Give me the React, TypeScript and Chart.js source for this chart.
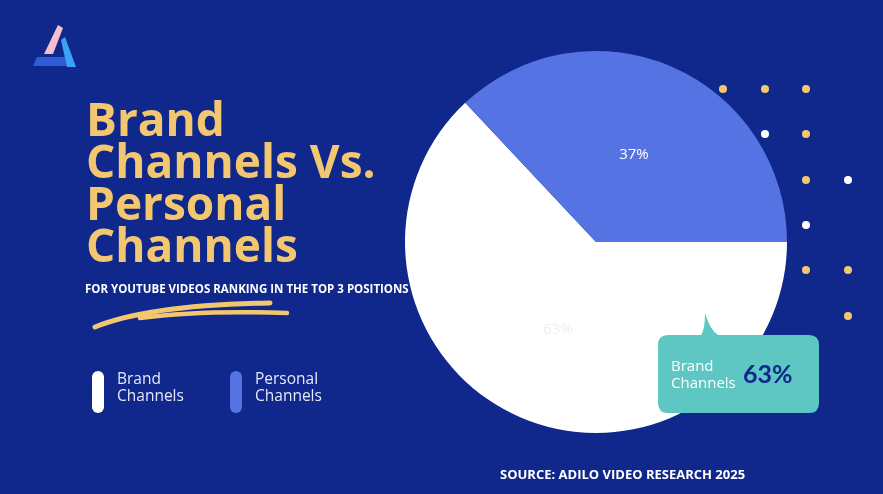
import React, { useEffect, useRef } from "react";
import { Chart, registerables } from "chart.js";

Chart.register(...registerables);

const categories = ["Brand Channels", "Personal Channels"];
const shares = [63, 37];
const sliceColors = ["#ffffff", "#5573e2"];
const labelColors = ["#eeeef6", "#ffffff"];

const BG = "#10288b";
const YELLOW = "#f3c76f";

const sliceLabels = {
  id: "sliceLabels",
  afterDatasetsDraw(chart: any) {
    const ctx = chart.ctx;
    const meta = chart.getDatasetMeta(0);
    ctx.save();
    ctx.font = "15px 'Open Sans'";
    ctx.textAlign = "center";
    ctx.textBaseline = "middle";
    meta.data.forEach((arc: any, i: number) => {
      const p = arc.getCenterPoint();
      ctx.fillStyle = labelColors[i];
      ctx.fillText(shares[i] + "%", p.x, p.y);
    });
    ctx.restore();
  },
};

const dots: [number, number, string][] = [
  [723, 89, YELLOW], [765, 89, YELLOW], [806, 89, YELLOW],
  [765, 134, "#ffffff"], [806, 134, YELLOW],
  [806, 180, YELLOW], [848, 180, "#ffffff"],
  [806, 225, "#ffffff"],
  [806, 270, YELLOW], [848, 270, YELLOW],
  [848, 316, YELLOW],
];

export default function App() {
  const ref = useRef<HTMLCanvasElement>(null);
  useEffect(() => {
    if (!ref.current) return;
    const chart = new Chart(ref.current, {
      type: "pie",
      data: {
        labels: categories,
        datasets: [
          {
            data: shares,
            backgroundColor: sliceColors,
            borderWidth: 0,
          },
        ],
      },
      options: {
        animation: false,
        responsive: false,
        rotation: 90,
        layout: { padding: { left: 405, right: 96, top: 51, bottom: 61 } },
        plugins: { legend: { display: false }, tooltip: { enabled: false } },
      },
      plugins: [sliceLabels],
    });
    return () => chart.destroy();
  }, []);

  const abs = (s: React.CSSProperties): React.CSSProperties => ({ position: "absolute", ...s });

  return (
    <div style={{ position: "fixed", left: 0, top: 0, width: 883, height: 494, background: BG, overflow: "hidden", fontFamily: "'Open Sans', sans-serif" }}>
      <svg width={883} height={494} style={abs({ left: 0, top: 0 })}>
        <polygon points="37,57 66,57 68,66 33,66" fill="#2f5bd6" />
        <polygon points="61,40 65,37 76,67 67,67" fill="#3ba3f7" />
        <polygon points="58,25 63,28 53,54 44,54" fill="#f5c0cc" />
        {dots.map(([x, y, c], i) => (
          <circle key={i} cx={x} cy={y} r={4} fill={c} />
        ))}
        <path d="M95,327 Q150,305 270,303" stroke={YELLOW} strokeWidth={5} fill="none" strokeLinecap="round" />
        <path d="M140,318 Q200,310 287,313" stroke={YELLOW} strokeWidth={4.5} fill="none" strokeLinecap="round" />
      </svg>
      <canvas ref={ref} width={883} height={494} style={abs({ left: 0, top: 0 })} />
      <div style={abs({ left: 86, top: 97, color: YELLOW, fontWeight: 700, fontSize: 46, lineHeight: "42px", letterSpacing: 0 })}>
        Brand<br />Channels Vs.<br />Personal<br />Channels
      </div>
      <div style={abs({ left: 85, top: 281, color: "#ffffff", fontWeight: 700, fontSize: 11.5, whiteSpace: "nowrap" })}>
        FOR YOUTUBE VIDEOS RANKING IN THE TOP 3 POSITIONS
      </div>
      <div style={abs({ left: 92, top: 371, width: 12, height: 42, borderRadius: 6, background: "#ffffff" })} />
      <div style={abs({ left: 117, top: 370, color: "#e6e9f7", fontSize: 15.5, lineHeight: "17px" })}>
        Brand<br />Channels
      </div>
      <div style={abs({ left: 230, top: 371, width: 12, height: 42, borderRadius: 6, background: "#5573e2" })} />
      <div style={abs({ left: 255, top: 370, color: "#e6e9f7", fontSize: 15.5, lineHeight: "17px" })}>
        Personal<br />Channels
      </div>
      <svg width={883} height={494} style={abs({ left: 0, top: 0 })}>
        <path d="M668,335 L701,335 Q705,330 705,313 Q710,330 718,335 L809,335 Q819,335 819,345 L819,403 Q819,413 809,413 L668,413 Q658,413 658,403 L658,345 Q658,335 668,335 Z" fill="#5ec6c3" />
      </svg>
      <div style={abs({ left: 671, top: 357, color: "#ffffff", fontSize: 15, lineHeight: "17px" })}>
        Brand<br />Channels
      </div>
      <div style={abs({ left: 743, top: 358, color: "#10288b", fontSize: 25, fontWeight: 700, fontFamily: "Lato, sans-serif" })}>
        63%
      </div>
      <div style={abs({ left: 500, top: 465, color: "#ffffff", fontWeight: 700, fontSize: 13, whiteSpace: "nowrap" })}>
        SOURCE: ADILO VIDEO RESEARCH 2025
      </div>
    </div>
  );
}
